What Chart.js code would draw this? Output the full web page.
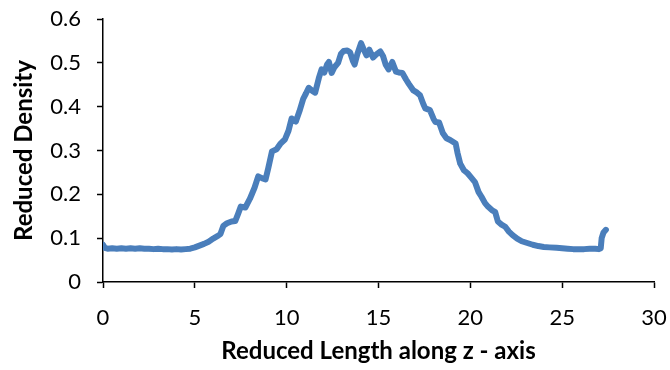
<!DOCTYPE html>
<html>
<head>
<meta charset="utf-8">
<script src="https://cdn.jsdelivr.net/npm/chart.js@4/dist/chart.umd.min.js"></script>
<style>
html,body{margin:0;padding:0;background:#fff;}
#wrap{width:670px;height:370px;}
</style>
</head>
<body>
<div id="wrap"><canvas id="c" width="670" height="370"></canvas></div>
<script>
const xValues = [0,0.1,0.25,0.5,0.75,1,1.25,1.5,1.75,2,2.25,2.5,2.75,3,3.25,3.5,3.75,4,4.25,4.5,4.75,
5.0,5.25,5.5,5.75,6.0,6.25,6.4,6.55,6.75,7.0,7.2,7.35,7.5,7.75,8.0,8.25,8.45,8.65,8.85,9.0,9.2,9.45,9.65,9.9,
10.1,10.27,10.5,10.7,10.9,11.05,11.2,11.4,11.55,11.75,11.9,12.05,12.2,12.3,12.45,12.6,12.8,12.95,13.1,13.3,13.45,13.6,13.7,13.85,
14.05,14.2,14.35,14.5,14.7,14.9,15.1,15.25,15.4,15.55,15.75,15.95,16.1,16.3,16.5,16.65,16.9,17.1,17.26,17.45,17.55,17.8,
18.0,18.1,18.3,18.5,18.7,18.9,19.2,19.3,19.45,19.65,19.85,20.05,20.25,20.45,20.6,20.8,20.96,21.2,21.35,21.5,21.7,21.9,
22.1,22.3,22.55,22.8,23.1,23.4,23.7,24.0,24.3,24.7,25.0,25.3,25.6,25.9,26.2,26.5,26.8,27.0,27.1,27.15,27.25,27.38];
const densityValues = [0.085,0.078,0.076,0.077,0.076,0.077,0.076,0.077,0.076,0.077,0.076,0.076,0.075,0.076,0.075,0.075,0.074,0.075,0.074,0.075,0.076,
0.079,0.083,0.087,0.092,0.099,0.105,0.110,0.128,0.134,0.138,0.139,0.155,0.172,0.170,0.190,0.215,0.241,0.237,0.234,0.260,0.298,0.303,0.315,0.325,
0.345,0.373,0.366,0.390,0.418,0.430,0.443,0.436,0.432,0.465,0.485,0.478,0.496,0.502,0.477,0.490,0.500,0.520,0.527,0.528,0.524,0.505,0.496,0.520,
0.545,0.530,0.517,0.530,0.512,0.520,0.526,0.515,0.495,0.485,0.502,0.480,0.478,0.477,0.462,0.452,0.437,0.432,0.426,0.405,0.396,0.392,
0.372,0.365,0.364,0.340,0.328,0.324,0.316,0.295,0.270,0.255,0.248,0.238,0.228,0.205,0.195,0.180,0.172,0.163,0.160,0.138,0.131,0.126,
0.115,0.107,0.099,0.093,0.089,0.085,0.082,0.080,0.079,0.078,0.077,0.076,0.075,0.075,0.075,0.076,0.076,0.075,0.077,0.100,0.113,0.119];
const xTicks = [0,5,10,15,20,25,30];
const yTicks = [0,0.1,0.2,0.3,0.4,0.5,0.6];

const points = xValues.map((x,i)=>({x:x,y:densityValues[i]}));
const FONT = 'Lato, "Open Sans", sans-serif';

new Chart(document.getElementById('c'), {
  type: 'scatter',
  data: { datasets: [{
    data: points, showLine: true, borderColor: '#4a7ebb', backgroundColor: '#4a7ebb',
    borderWidth: 6, pointRadius: 0, tension: 0, borderJoinStyle: 'round', borderCapStyle: 'round'
  }]},
  options: {
    responsive: false, animation: false,
    layout: { padding: { top: 19, right: 16, left: 0, bottom: 0 } },
    plugins: { legend: { display: false }, tooltip: { enabled: false } },
    scales: {
      x: {
        type: 'linear', min: 0, max: 30,
        afterBuildTicks: s => { s.ticks = xTicks.map(v=>({value:v})); },
        afterFit: s => { s.height = 88; s.paddingLeft = 0; s.paddingRight = 0; },
        ticks: { color: '#000', font: { family: FONT, size: 22 }, padding: 17, maxRotation: 0 },
        grid: { display: true, drawOnChartArea: false, drawTicks: true, tickLength: 6, tickColor: '#000', tickWidth: 1.5 },
        border: { display: true, color: '#000', width: 1.5 },
        title: { display: true, text: 'Reduced Length along z - axis', color: '#000',
          font: { family: FONT, size: 24, weight: 'bold' }, padding: { top: 0, bottom: 4 } }
      },
      y: {
        type: 'linear', min: 0, max: 0.6,
        afterBuildTicks: s => { s.ticks = yTicks.map(v=>({value:v})); },
        afterFit: s => { s.width = 103; s.paddingTop = 0; s.paddingBottom = 0; },
        ticks: { color: '#000', font: { family: FONT, size: 22 }, padding: 16,
          callback: v => (v === 0 ? '0' : v.toFixed(1)) },
        grid: { display: true, drawOnChartArea: false, drawTicks: true, tickLength: 6, tickColor: '#000', tickWidth: 1.5 },
        border: { display: true, color: '#000', width: 1.5 },
        title: { display: true, text: 'Reduced Density', color: '#000',
          font: { family: FONT, size: 24, weight: 'bold' }, padding: { top: 10, bottom: 0 } }
      }
    }
  }
});
</script>
</body>
</html>
